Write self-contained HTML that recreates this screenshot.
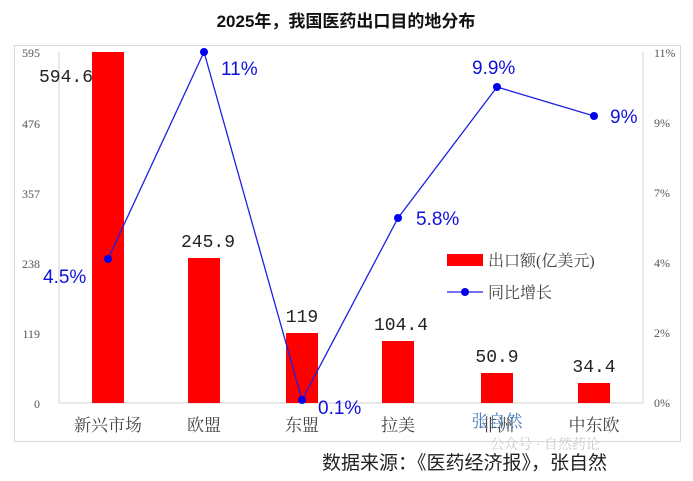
<!DOCTYPE html>
<html><head><meta charset="utf-8"><style>
body{margin:0;background:#fff;}
text{font-family:"Liberation Serif","Noto Serif CJK SC",serif;}
.sans text,text.sans{font-family:"Liberation Sans","Noto Sans CJK SC",sans-serif;}
.mono text{font-family:"Liberation Mono",monospace;}
</style></head><body>
<svg width="693" height="476" viewBox="0 0 693 476" xmlns="http://www.w3.org/2000/svg">
<rect width="693" height="476" fill="#fff"/>
<text class="sans" x="346" y="27" text-anchor="middle" font-size="17" font-weight="bold" fill="#111">2025年，我国医药出口目的地分布</text>
<rect x="14.5" y="45.5" width="666" height="396" fill="none" stroke="#d8d8d8"/>
<line x1="59" y1="52" x2="59" y2="403" stroke="#d0d0d0"/>
<line x1="59" y1="403" x2="643" y2="403" stroke="#d0d0d0"/>
<line x1="643" y1="52" x2="643" y2="403" stroke="#d0d0d0"/>
<g font-size="12" fill="#555" text-anchor="end">
<text x="40" y="57">595</text><text x="40" y="128">476</text><text x="40" y="198">357</text>
<text x="40" y="268">238</text><text x="40" y="338">119</text><text x="40" y="408">0</text>
</g>
<g font-size="12" fill="#555" text-anchor="start">
<text x="654" y="57">11%</text><text x="654" y="127">9%</text><text x="654" y="197">7%</text>
<text x="654" y="267">4%</text><text x="654" y="337">2%</text><text x="654" y="407">0%</text>
</g>
<g fill="#ff0000">
<rect x="92" y="52" width="32" height="351"/>
<rect x="188" y="258" width="32" height="145"/>
<rect x="286" y="333" width="32" height="70"/>
<rect x="382" y="341" width="32" height="62"/>
<rect x="481" y="373" width="32" height="30"/>
<rect x="578" y="383" width="32" height="20"/>
</g>
<g class="mono" font-size="18" fill="#222" text-anchor="middle">
<text x="66" y="82">594.6</text>
<text x="208" y="247">245.9</text>
<text x="302" y="322">119</text>
<text x="401" y="330">104.4</text>
<text x="497" y="362">50.9</text>
<text x="594" y="372">34.4</text>
</g>
<polyline points="108,259 204,52 302,400 398,218 497,87 594,116" fill="none" stroke="#2020e0" stroke-width="1.3"/>
<g fill="#0000ee">
<circle cx="108" cy="259" r="4"/><circle cx="204" cy="52" r="4"/><circle cx="302" cy="400" r="4"/>
<circle cx="398" cy="218" r="4"/><circle cx="497" cy="87" r="4"/><circle cx="594" cy="116" r="4"/>
</g>
<g class="sans" font-size="19" fill="#1010dd">
<text x="43" y="283">4.5%</text>
<text x="221" y="75">11%</text>
<text x="318" y="414">0.1%</text>
<text x="416" y="225">5.8%</text>
<text x="472" y="74">9.9%</text>
<text x="610" y="123">9%</text>
</g>
<rect x="447" y="254" width="36" height="12" fill="#ff0000"/>
<text x="488" y="266" font-size="16" fill="#444">出口额(亿美元)</text>
<line x1="447" y1="292" x2="483" y2="292" stroke="#2020e0" stroke-width="1.3"/>
<circle cx="465" cy="292" r="4" fill="#0000ee"/>
<text x="488" y="298" font-size="16" fill="#444">同比增长</text>
<g font-size="17" fill="#444" text-anchor="middle">
<text x="108" y="431">新兴市场</text><text x="204" y="431">欧盟</text><text x="302" y="431">东盟</text>
<text x="398" y="431">拉美</text><text x="497" y="431">非洲</text><text x="594" y="431">中东欧</text>
</g>
<text x="497" y="427" font-size="17" fill="#4a7ab8" text-anchor="middle">张自然</text>
<text x="545" y="449" font-size="14" fill="#ccc" text-anchor="middle">公众号 · 自然药论</text>
<text class="sans" x="322" y="469" font-size="19" fill="#222">数据来源：《医药经济报》，张自然</text>
</svg>
</body></html>
